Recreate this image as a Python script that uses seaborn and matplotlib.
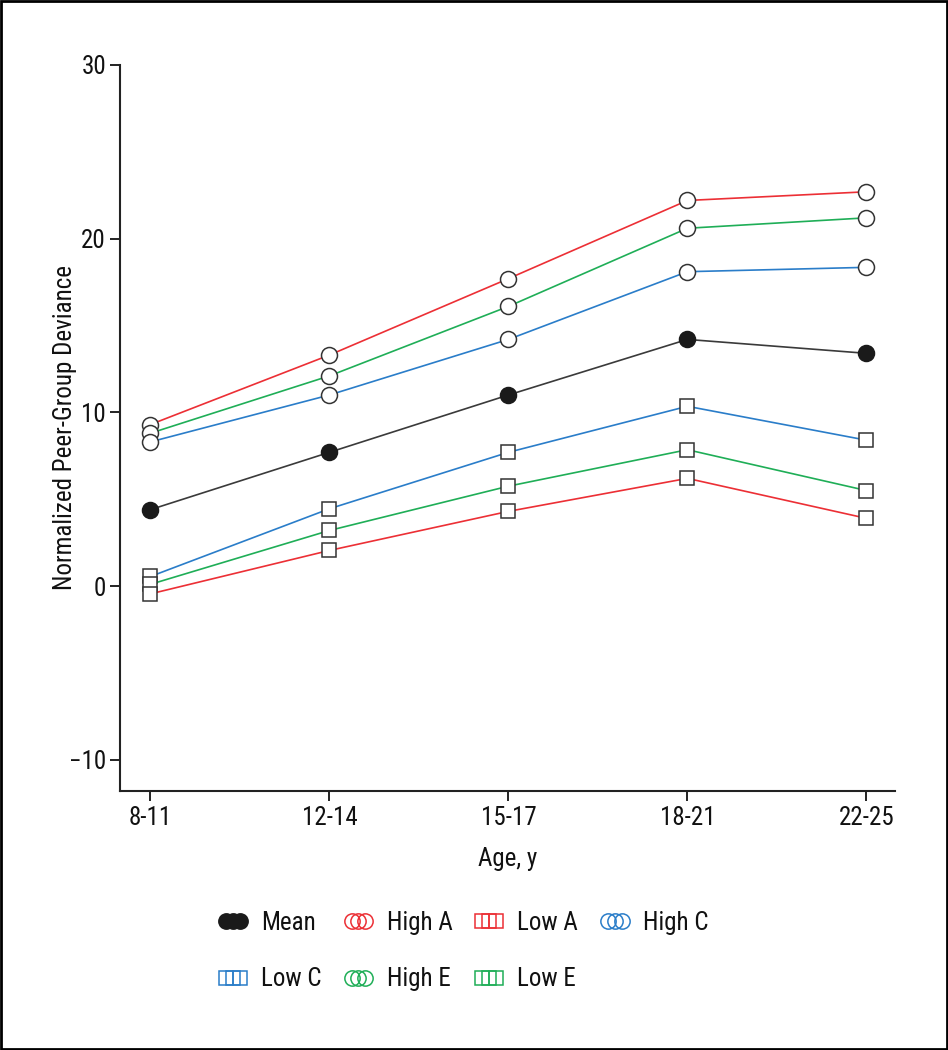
import matplotlib
matplotlib.use("Agg")
import matplotlib.pyplot as plt
from matplotlib.lines import Line2D
from matplotlib.patches import Rectangle
import seaborn as sns
import pandas as pd

# Chart data
ages = ["8-11", "12-14", "15-17", "18-21", "22-25"]
mean = [4.4, 7.7, 11.0, 14.2, 13.4]
high_a = [9.3, 13.3, 17.7, 22.2, 22.7]
high_e = [8.8, 12.1, 16.1, 20.6, 21.2]
high_c = [8.3, 11.0, 14.2, 18.1, 18.35]
low_c = [0.55, 4.45, 7.7, 10.35, 8.4]
low_e = [0.1, 3.2, 5.75, 7.85, 5.5]
low_a = [-0.45, 2.05, 4.3, 6.2, 3.9]

RED = "#ec2f35"
GREEN = "#1fae57"
BLUE = "#2a7dc9"
DARK = "#3a3a3a"
FS = 18

sns.set_style("ticks")
plt.rcParams["font.family"] = ["Roboto Condensed", "Liberation Sans", "DejaVu Sans"]

fig = plt.figure(figsize=(9.48, 10.5), dpi=100)
ax = fig.add_axes([120 / 948, 1 - 791 / 1050, 775 / 948, 726 / 1050])

# drawing order: (label, values, line colour, marker, face colour)
series = [
    ("High A", high_a, RED, "o", "white"),
    ("High E", high_e, GREEN, "o", "white"),
    ("High C", high_c, BLUE, "o", "white"),
    ("Mean", mean, DARK, "o", "#1a1a1a"),
    ("Low C", low_c, BLUE, "s", "white"),
    ("Low E", low_e, GREEN, "s", "white"),
    ("Low A", low_a, RED, "s", "white"),
]

for label, vals, col, mk, fc in series:
    df = pd.DataFrame({"age": ages, "value": vals})
    sns.lineplot(data=df, x="age", y="value", ax=ax, color=col, lw=1.2,
                 marker=mk, ms=11.5 if mk == "o" else 10.5, mfc=fc,
                 mec="#333333" if fc == "white" else "#1a1a1a", mew=1.1,
                 sort=False, legend=False)

ax.set_xlim(-0.17, 4.16)
ax.set_ylim(-11.8, 30)
ax.set_yticks([-10, 0, 10, 20, 30])
ax.set_yticklabels(["\u221210", "0", "10", "20", "30"])
ax.tick_params(axis="both", labelsize=FS, length=7, width=1.4, color="#222222",
               labelcolor="#111111", pad=4)
ax.tick_params(axis="y", pad=3)
for s in ["top", "right"]:
    ax.spines[s].set_visible(False)
for s in ["left", "bottom"]:
    ax.spines[s].set_linewidth(1.5)
    ax.spines[s].set_color("#222222")
ax.set_xlabel("Age, y", fontsize=FS, color="#111111", labelpad=12)
ax.set_ylabel("Normalized Peer-Group Deviance", fontsize=FS, color="#111111")
ax.yaxis.set_label_coords(-0.056, 0.5)

# legend with three overlapping markers per entry
def handle(col, mk, filled=False):
    return Line2D([], [], ls="none", marker=mk, ms=11 if mk == "o" else 10.5,
                  mfc=col if filled else "none", mec=col, mew=1.1)

# column-major order so rows read Mean, High A, Low A, High C / Low C, High E, Low E
handles = [handle("#1a1a1a", "o", True), handle(BLUE, "s"),
           handle(RED, "o"), handle(GREEN, "o"),
           handle(RED, "s"), handle(GREEN, "s"),
           handle(BLUE, "o")]
labels = ["Mean", "Low C", "High A", "High E", "Low A", "Low E", "High C"]
leg = fig.legend(handles, labels, ncol=4, numpoints=3, handlelength=1.15,
                 handletextpad=0.55, columnspacing=0.9, labelspacing=1.3,
                 fontsize=FS, frameon=False, loc="center",
                 bbox_to_anchor=(0.489, 1 - 951 / 1050))
for t in leg.get_texts():
    t.set_color("#111111")

fig.patches.append(Rectangle((0.001, 0.001), 0.998, 0.998, transform=fig.transFigure,
                             fill=False, edgecolor="black", lw=2))

fig.savefig("out.png", dpi=100)
